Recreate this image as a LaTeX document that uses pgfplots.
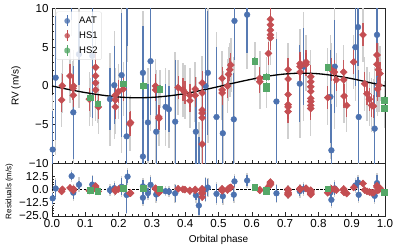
\documentclass[border=0pt]{standalone}
\usepackage{pgfplots}
\pgfplotsset{compat=1.18}
\usepackage{pgfplotstable}
\usepackage{fontspec}
\setmainfont{Liberation Sans}
\definecolor{aat}{HTML}{4C72B0}
\definecolor{hsa}{HTML}{C44E52}
\definecolor{hsb}{HTML}{55A868}
\definecolor{jit}{HTML}{CFCFCF}

\pgfplotstableread{
x y e j r
0.002 -8.2 5 7 -8.2
0.011 1.07 8 10 1.2
0.059 12.5 4 6 13.0
0.064 -3.4 6 8 -2.8
0.081 4.1 4 7 4.8
0.121 3.9 8 9 4.9
0.174 -1.7 4 6 -0.4
0.187 0.1 5 7 1.5
0.209 1.4 8 10 2.85
0.224 -6.5 17 18 -5.0
0.227 11.1 6 8 12.5
0.273 1.7 6 8 3.2
0.273 -9.1 6 8 -7.6
0.288 -4.7 5 7 -3.2
0.296 3.2 7 9 4.7
0.313 -5.9 6 8 -4.5
0.341 -2.7 3 5 -1.4
0.351 -3.0 3 5 -1.75
0.370 -4.6 8 9 -3.45
0.432 -5.9 5 7 -5.2
0.441 -15.6 9 11 -15.0
0.461 0.0 11 12 0.4
0.468 1.7 8 9 2.1
0.494 -4.0 9 11 -3.9
0.513 -6.1 6 8 -6.2
0.546 -4.3 6 8 -4.7
0.548 8.4 5 7 8.0
0.586 9.2 5 7 8.8
0.674 -2.0 8 9 -3.4
0.744 0.3 5 7 -1.3
0.756 2.5 5 7 0.85
0.836 -1.4 6 8 -2.7
0.839 -8.3 6 8 -9.6
0.849 2.5 6 8 1.25
0.911 5.0 5 7 4.1
0.919 7.6 5 7 6.9
0.921 -4.0 6 8 -4.8
0.969 -5.5 6 8 -5.8
0.976 6.6 8 10 6.3
}\aattab

\pgfplotstableread{
x y e j r
0.029 -1.8 1.5 3.5 -1.55
0.031 0.04 1.5 3.5 0.4
0.054 1.3 1.5 3.5 1.8
0.063 -0.3 1.5 3.5 0.25
0.065 0.0 1.5 3.5 0.55
0.064 -1.2 1.5 3.5 -0.65
0.112 -1.7 1.5 3.5 -0.75
0.131 2.4 2 4 3.45
0.131 1.3 2 4 2.35
0.131 0.4 2 4 1.45
0.131 -0.5 2 4 0.55
0.139 -2.7 1.5 3.5 -1.55
0.190 -1.2 1.5 3.5 0.2
0.190 -1.8 1.5 3.5 -0.4
0.190 -2.7 1.5 3.5 -1.3
0.200 -0.7 1.5 3.5 0.7
0.214 -0.4 1.5 3.5 1.05
0.234 -4.9 1.5 3.5 -3.4
0.236 -4.7 1.5 3.5 -3.2
0.311 0.0 1.5 3.5 1.45
0.311 -0.5 1.5 3.5 0.95
0.321 -4.0 1.5 3.5 -2.6
0.321 -4.2 1.5 3.5 -2.8
0.379 -0.2 1.5 3.5 0.9
0.393 -0.5 1.5 3.5 0.5
0.399 -0.8 1.5 3.5 0.15
0.414 -1.2 1.5 3.5 -0.45
0.414 -1.9 1.5 3.5 -1.15
0.430 -0.4 1.5 3.5 0.3
0.430 -1.2 1.5 3.5 -0.5
0.451 0.4 1.5 3.5 0.9
0.451 -0.9 1.5 3.5 -0.4
0.451 -3.1 1.5 3.5 -2.6
0.451 -3.5 1.5 3.5 -3.0
0.451 -4.1 1.5 3.5 -3.6
0.451 -7.5 3 4 -7.0
0.511 1.0 1.5 3.5 0.9
0.511 -0.5 1.5 3.5 -0.6
0.511 -0.9 1.5 3.5 -1.0
0.537 2.7 1.5 3.5 2.35
0.534 2.1 1.5 3.5 1.75
0.530 1.5 1.5 3.5 1.2
0.527 0.0 1.5 3.5 -0.25
0.624 1.0 1.5 3.5 -0.1
0.624 0.55 1.5 3.5 -0.55
0.650 4.2 1.5 3.5 2.9
0.656 8.6 1.5 3.5 7.3
0.656 7.9 1.5 3.5 6.6
0.656 7.2 1.5 3.5 5.9
0.656 6.6 1.5 3.5 5.3
0.656 6.2 1.5 3.5 4.9
0.709 2.1 1.5 3.5 0.55
0.709 0.9 1.5 3.5 -0.65
0.709 -1.1 1.5 3.5 -2.65
0.709 -2.4 1.5 3.5 -3.95
0.709 -2.7 1.5 3.5 -4.25
0.709 -3.3 1.5 3.5 -4.85
0.745 2.9 1.5 3.5 1.25
0.745 2.5 1.5 3.5 0.85
0.745 1.8 1.5 3.5 0.15
0.763 3.1 1.5 3.5 1.45
0.763 2.8 1.5 3.5 1.15
0.777 1.2 1.5 3.5 -0.43
0.777 0.55 1.5 3.5 -1.08
0.777 -0.1 1.5 3.5 -1.73
0.777 -0.7 1.5 3.5 -2.33
0.777 -1.6 1.5 3.5 -3.23
0.777 -2.0 1.5 3.5 -3.63
0.777 -2.5 1.5 3.5 -4.13
0.777 -2.9 1.5 3.5 -4.53
0.828 -1.5 1.5 3.5 -2.9
0.839 2.1 1.5 3.5 0.8
0.848 1.8 1.5 3.5 0.55
0.854 0.8 1.5 3.5 -0.4
0.876 1.8 1.5 3.5 0.7
0.876 0.8 1.5 3.5 -0.3
0.877 -1.3 1.5 3.5 -2.4
0.885 -2.5 1.5 3.5 -3.55
0.906 3.1 1.5 3.5 2.2
0.934 6.6 1.5 3.5 5.95
0.939 0.3 1.5 3.5 -0.3
0.946 -1.0 1.5 3.5 -1.5
0.953 -1.7 1.5 3.5 -2.15
0.960 -2.5 1.5 3.5 -2.85
0.965 -2.6 1.5 3.5 -2.9
0.976 4.0 1.5 3.5 3.8
0.976 2.8 1.5 3.5 2.6
0.980 2.1 1.5 3.5 1.9
0.985 1.6 1.5 3.5 1.45
0.982 0.1 1.5 3.5 -0.05
0.978 -0.4 1.5 3.5 -0.6
}\hsatab

\pgfplotstableread{
x y e j r
0.114 -1.5 0.5 2.5 -0.45
0.137 -2.3 0.5 2.5 -1.1
0.214 0.3 0.5 2.5 1.7
0.273 0.04 0.5 2.5 1.5
0.324 -0.4 0.5 2.5 1.0
0.609 3.2 0.5 2.5 2.3
0.644 1.2 0.5 2.5 -0.05
0.644 0.0 0.5 2.5 -1.25
0.644 -0.3 0.5 2.5 -1.55
0.828 2.4 0.5 2.5 1.1
0.998 -1.8 0.5 2.5 -1.8
0.998 -2.9 0.5 2.5 -2.9
}\hsbtab

\pgfplotsset{
  common/.style={
    scale only axis, width=333pt, xmin=0, xmax=1,
    xtick={0,0.1,0.2,0.3,0.4,0.5,0.6,0.7,0.8,0.9,1},
    minor x tick num=4,
    tick align=inside, xtick pos=bottom, ytick pos=left,
    major tick length=3.5pt, minor tick length=2pt,
    tick style={black!85, line width=0.6pt},
    axis line style={black!85, line width=0.8pt},
    tick label style={font=\fontsize{11.6}{13}\selectfont},
    label style={font=\fontsize{14}{15}\selectfont},
  },
  jitbar/.style={draw=none, mark=none, forget plot,
    error bars/y dir=both, error bars/y explicit, error bars/error mark=none,
    error bars/error bar style={draw=jit, line width=1.5pt}},
  colbar/.style={only marks, forget plot,
    error bars/y dir=both, error bars/y explicit, error bars/error mark=none,
    error bars/error bar style={draw=#1, line width=1.3pt, draw opacity=0.9}},
}

\begin{document}
\begin{tikzpicture}
% ---------- residual panel ----------
\begin{axis}[common, at={(0,0)}, anchor=south west, height=52.5pt,
  ymin=-25, ymax=25,
  ytick={-25,-12.5,0,12.5}, yticklabels={−25.0,−12.5,0.0,12.5},
  minor y tick num=4,
  xticklabels={0.0,0.1,0.2,0.3,0.4,0.5,0.6,0.7,0.8,0.9,1.0},
  xlabel={Orbital phase},
  every axis x label/.style={at={(axis description cs:0.5,0)}, yshift=-23.5pt, anchor=center},
  ylabel={Residuals (m/s)},
  every axis y label/.style={at={(axis description cs:-0.128,0.47)}, rotate=90, anchor=center, font=\fontsize{8}{9}\selectfont},
]
\addplot[black, line width=0.6pt, dash pattern=on 2.5pt off 1.5pt, forget plot] coordinates {(0,0) (1,0)};
\addplot[jitbar] table[x=x, y=r, y error=j] {\aattab};
\addplot[jitbar] table[x=x, y=r, y error=j] {\hsatab};
\addplot[jitbar] table[x=x, y=r, y error=j] {\hsbtab};
\addplot[colbar=aat, mark=*, mark size=2.9pt, color=aat] table[x=x, y=r, y error=e] {\aattab};
\addplot[colbar=hsa, mark=square*, mark size=2.5pt, mark options={rotate=45}, color=hsa] table[x=x, y=r, y error=e] {\hsatab};
\addplot[colbar=hsb, mark=square*, mark size=2.8pt, color=hsb] table[x=x, y=r, y error=e] {\hsbtab};
\end{axis}
% ---------- RV panel ----------
\begin{axis}[common, at={(0,52.5pt)}, anchor=south west, height=155pt,
  ymin=-10, ymax=10,
  ytick={-10,-5,0,5,10}, yticklabels={−10,−5,0,5,10},
  minor y tick num=4,
  xticklabels={},
  ylabel={RV (m/s)},
  every axis y label/.style={at={(axis description cs:-0.108,0.5)}, rotate=90, anchor=center},
  legend style={at={(0.012,0.98)}, anchor=north west, draw=black!12, fill=white, fill opacity=0.8, text opacity=1,
    rounded corners=2pt, font=\fontsize{9.5}{11}\selectfont, row sep=2.5pt, inner xsep=2pt, inner ysep=3pt},
  legend cell align=left,
]
\addlegendimage{legend image code/.code={
  \path[draw=none, fill=none] (0pt,0pt) -- (19pt,0pt);
  \draw[aat, line width=1.3pt] (9pt,-5.5pt)--(9pt,5.5pt);
  \fill[aat, draw=none] (9pt,0pt) circle (2.9pt);}}
\addlegendentry{AAT}
\addlegendimage{legend image code/.code={
  \path[draw=none, fill=none] (0pt,0pt) -- (19pt,0pt);
  \draw[hsa, line width=1.3pt] (9pt,-5.5pt)--(9pt,5.5pt);
  \fill[hsa, draw=none] (9pt,3.6pt)--(12.6pt,0pt)--(9pt,-3.6pt)--(5.4pt,0pt)--cycle;}}
\addlegendentry{HS1}
\addlegendimage{legend image code/.code={
  \path[draw=none, fill=none] (0pt,0pt) -- (19pt,0pt);
  \draw[hsb, line width=1.3pt] (9pt,-5.5pt)--(9pt,5.5pt);
  \fill[hsb, draw=none] (6.2pt,-2.8pt) rectangle (11.8pt,2.8pt);}}
\addlegendentry{HS2}
\addplot[jitbar] table[x=x, y=y, y error=j] {\aattab};
\addplot[jitbar] table[x=x, y=y, y error=j] {\hsatab};
\addplot[jitbar] table[x=x, y=y, y error=j] {\hsbtab};
\addplot[colbar=aat, mark=*, mark size=2.9pt, color=aat] table[x=x, y=y, y error=e] {\aattab};
\addplot[colbar=hsa, mark=square*, mark size=2.5pt, mark options={rotate=45}, color=hsa] table[x=x, y=y, y error=e] {\hsatab};
\addplot[colbar=hsb, mark=square*, mark size=2.8pt, color=hsb] table[x=x, y=y, y error=e] {\hsbtab};
\addplot[black, line width=1.3pt, smooth, forget plot] coordinates {
(0,0) (0.05,-0.45) (0.1,-0.85) (0.15,-1.18) (0.2,-1.42) (0.25,-1.52) (0.3,-1.47)
(0.35,-1.28) (0.4,-0.98) (0.45,-0.55) (0.5,-0.08) (0.55,0.42) (0.6,0.88) (0.65,1.28)
(0.7,1.55) (0.75,1.66) (0.8,1.58) (0.85,1.32) (0.9,0.95) (0.95,0.48) (1.0,0.0)};
\end{axis}
\pgfresetboundingbox
\useasboundingbox (-52pt,-33pt) rectangle (347pt,216pt);
\end{tikzpicture}
\end{document}
